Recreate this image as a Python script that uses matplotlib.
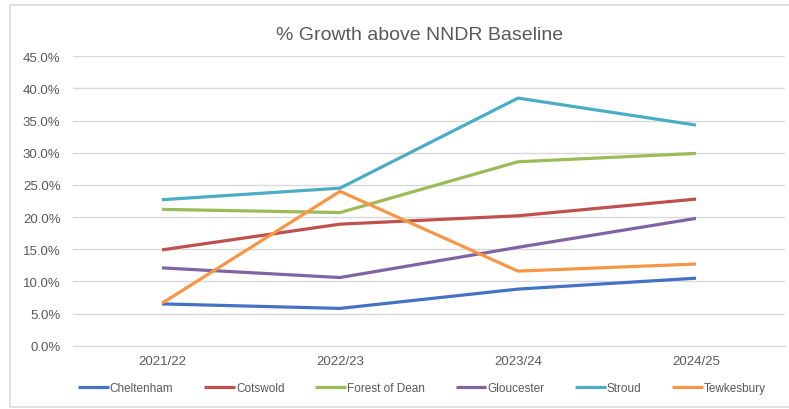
import matplotlib
matplotlib.use("Agg")
import matplotlib.pyplot as plt
from matplotlib.patches import Rectangle
from matplotlib.ticker import FuncFormatter, MultipleLocator

categories = ["2021/22", "2022/23", "2023/24", "2024/25"]
series_names = ["Cheltenham", "Cotswold", "Forest of Dean", "Gloucester", "Stroud", "Tewkesbury"]
cheltenham = [6.5, 5.8, 8.8, 10.5]
cotswold = [14.9, 18.9, 20.2, 22.8]
forest_of_dean = [21.2, 20.7, 28.6, 29.9]
gloucester = [12.1, 10.6, 15.3, 19.8]
stroud = [22.7, 24.5, 38.5, 34.3]
tewkesbury = [6.6, 24.0, 11.6, 12.7]
colors = ["#4472C4", "#C0504D", "#9BBB59", "#8064A2", "#4BACC6", "#F79646"]

values = [cheltenham, cotswold, forest_of_dean, gloucester, stroud, tewkesbury]

plt.rcParams["font.family"] = ["Liberation Sans", "DejaVu Sans"]

W, H = 789, 410
fig = plt.figure(figsize=(W / 100, H / 100), dpi=100)
fig.patch.set_facecolor("white")

# outer chart frame
fig.patches.append(Rectangle((9.5 / W, 1 - 408 / H), (W + 5 - 9.5) / W, (408 - 5.5) / H,
                             transform=fig.transFigure, fill=False,
                             edgecolor="#D9D9D9", linewidth=1.2))

left, right, top, bottom = 73, 785, 57.3, 346.7
ax = fig.add_axes([left / W, 1 - bottom / H, (right - left) / W, (bottom - top) / H])

x = list(range(len(categories)))
for name, vals, c in zip(series_names, values, colors):
    ax.plot(x, vals, color=c, linewidth=2.3, label=name, solid_capstyle="butt")

ax.set_xlim(-0.5, len(categories) - 0.5)
ax.set_ylim(0, 45)
ax.yaxis.set_major_locator(MultipleLocator(5))
ax.yaxis.set_major_formatter(FuncFormatter(lambda v, p: f"{v:.1f}%"))
ax.set_xticks(x)
ax.set_xticklabels(categories)
ax.grid(axis="y", color="#D9D9D9", linewidth=1)
ax.set_axisbelow(True)
for s in ["top", "right", "left"]:
    ax.spines[s].set_visible(False)
ax.spines["bottom"].set_color("#D9D9D9")
ax.tick_params(axis="both", length=0, labelsize=9.5, colors="#595959")
ax.tick_params(axis="x", pad=7)
ax.tick_params(axis="y", pad=9)

fig.text(420 / W, 1 - 35 / H, "% Growth above NNDR Baseline", ha="center", va="center",
         fontsize=14, color="#595959")

leg = fig.legend(loc="center", bbox_to_anchor=(422 / W, 1 - 389 / H), ncol=6, frameon=False,
                 fontsize=8.5, handlelength=2.6, handletextpad=0.1, columnspacing=2.6,
                 labelcolor="#595959")

fig.savefig("out.png", dpi=100)
